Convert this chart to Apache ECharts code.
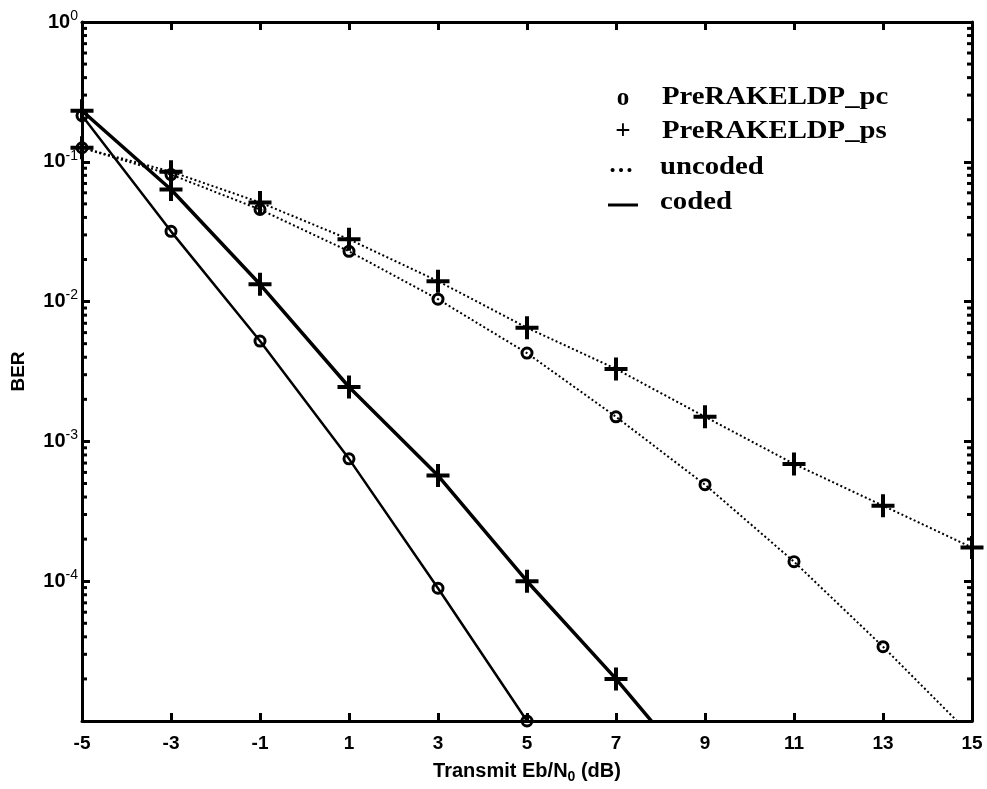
<!DOCTYPE html>
<html>
<head>
<meta charset="utf-8">
<script src="https://cdn.jsdelivr.net/npm/echarts@6/dist/echarts.min.js"></script>
<style>
html,body{margin:0;padding:0;background:#fff;}
#chart{width:987px;height:789px;}
</style>
</head>
<body>
<div id="chart"></div>
<script>
// ---- data ----
const snrCategories = ['-5','-3','-1','1','3','5','7','9','11','13','15'];
const uncodedPc = [0.126, 0.081, 0.0456, 0.0229, 0.0104, 0.00428, 0.0015, 0.00049, 0.000138, 3.4e-5, 7.8e-6];
const uncodedPs = [0.126, 0.085, 0.0512, 0.0279, 0.0140, 0.0065, 0.0033, 0.0015, 0.00069, 0.000347, 0.000174];
const codedPc = [0.214, 0.0318, 0.00522, 0.00075, 8.9e-5, 1.0e-5];
const codedPs = [0.232, 0.0633, 0.0133, 0.00245, 0.00057, 0.0001, 2.0e-5, 3.5e-6];
const decadeExponents = [-5, -4, -3, -2, -1];
const minorMultipliers = [2, 3, 4, 5, 6, 7, 8, 9];
const legendLabels = ['PreRAKELDP_pc', 'PreRAKELDP_ps', 'uncoded', 'coded'];

const minorValues = [];
decadeExponents.forEach(e => minorMultipliers.forEach(m => minorValues.push([0, m * Math.pow(10, e)])));

const chart = echarts.init(document.getElementById('chart'), null, {renderer: 'canvas'});

const plusPath = 'path://M9.5,0H13.5V9.5H23V13.5H13.5V23H9.5V13.5H0V9.5H9.5Z';
const ringPath = 'path://M0,7A7,7 0 1,0 14,7A7,7 0 1,0 0,7Z M3.2,7A3.8,3.8 0 1,1 10.8,7A3.8,3.8 0 1,1 3.2,7Z';
const axisLine = {show: true, onZero: false, lineStyle: {color: '#000', width: 3}};
const majorTick = {show: true, inside: true, length: 8, lineStyle: {color: '#000', width: 3}};
const tickFont = 'Liberation Sans, Arial, sans-serif';
const serifFont = '"Liberation Serif", "Times New Roman", serif';

function legendText(txt, x, y) {
  return {type: 'text', x: x, y: y, scaleX: 1.15, z: 100,
    style: {text: txt, font: 'bold 25px ' + serifFont, fill: '#000', align: 'left', verticalAlign: 'middle'}};
}

const option = {
  backgroundColor: '#fff',
  animation: false,
  grid: {left: 82, right: 15, top: 22, bottom: 66, containLabel: false},
  xAxis: [
    {
      type: 'category', data: snrCategories, boundaryGap: false, position: 'bottom',
      axisLine: axisLine, axisTick: Object.assign({alignWithLabel: true}, majorTick),
      axisLabel: {color: '#000', fontFamily: tickFont, fontWeight: 'bold', fontSize: 19, margin: 13},
      splitLine: {show: false},
      name: '{n|Transmit Eb/N}{s|0}{n| (dB)}',
      nameLocation: 'middle', nameGap: 37,
      nameTextStyle: {
        rich: {
          n: {fontFamily: tickFont, fontWeight: 'bold', fontSize: 20, color: '#000'},
          s: {fontFamily: tickFont, fontWeight: 'bold', fontSize: 14, color: '#000', padding: [12, 0, 0, 0]}
        }
      }
    },
    {
      type: 'category', data: snrCategories, boundaryGap: false, position: 'top',
      axisLine: axisLine, axisTick: majorTick, axisLabel: {show: false}, splitLine: {show: false}
    }
  ],
  yAxis: [
    {
      type: 'log', logBase: 10, min: 1e-5, max: 1, interval: 1, position: 'left',
      axisLine: axisLine, axisTick: majorTick,
      axisLabel: {
        margin: 4,
        formatter: function (v) {
          const e = Math.round(Math.log10(v));
          if (e === -5) return '';
          return '{b|10}{s|' + e + '}';
        },
        rich: {
          b: {fontFamily: tickFont, fontWeight: 'bold', fontSize: 20, color: '#000'},
          s: {fontFamily: tickFont, fontSize: 14, color: '#000', padding: [0, 0, 12, 0]}
        }
      },
      splitLine: {show: false},
      name: 'BER', nameLocation: 'middle', nameGap: 54, nameRotate: 90,
      nameTextStyle: {fontFamily: tickFont, fontWeight: 'bold', fontSize: 19, color: '#000'}
    },
    {
      type: 'log', logBase: 10, min: 1e-5, max: 1, interval: 1, position: 'right',
      axisLine: axisLine, axisTick: majorTick, axisLabel: {show: false}, splitLine: {show: false}
    }
  ],
  series: [
    {
      name: 'minorTicks', type: 'custom', xAxisIndex: 0, yAxisIndex: 0,
      data: minorValues, encode: {x: 0, y: 1}, silent: true, clip: false, z: 5,
      renderItem: function (params, api) {
        const v = api.value(1);
        const pL = api.coord([0, v]);
        const pR = api.coord([snrCategories.length - 1, v]);
        return {
          type: 'group',
          children: [
            {type: 'line', shape: {x1: pL[0], y1: pL[1], x2: pL[0] + 5, y2: pL[1]}, style: {stroke: '#000', lineWidth: 3}},
            {type: 'line', shape: {x1: pR[0] - 5, y1: pR[1], x2: pR[0], y2: pR[1]}, style: {stroke: '#000', lineWidth: 3}}
          ]
        };
      }
    },
    {
      name: 'uncoded pc', type: 'line', data: uncodedPc, clip: true,
      symbol: ringPath, symbolSize: 13,
      itemStyle: {color: '#000'},
      lineStyle: {color: '#000', width: 2, type: [2, 2.5]}
    },
    {
      name: 'uncoded ps', type: 'line', data: uncodedPs, clip: true,
      symbol: plusPath, symbolSize: 23,
      itemStyle: {color: '#000'},
      lineStyle: {color: '#000', width: 2, type: [2, 2.5]}
    },
    {
      name: 'coded pc', type: 'line', data: codedPc, clip: true,
      symbol: ringPath, symbolSize: 13,
      itemStyle: {color: '#000'},
      lineStyle: {color: '#000', width: 2.5}
    },
    {
      name: 'coded ps', type: 'line', data: codedPs, clip: true,
      symbol: plusPath, symbolSize: 23,
      itemStyle: {color: '#000'},
      lineStyle: {color: '#000', width: 3.5}
    }
  ],
  graphic: [
    {type: 'text', x: 623, y: 99, z: 100, style: {text: 'o', font: 'bold 25px ' + serifFont, fill: '#000', align: 'center', verticalAlign: 'middle'}},
    legendText(legendLabels[0], 662, 98),
    {type: 'text', x: 623, y: 132, z: 100, style: {text: '+', font: 'bold 27px ' + serifFont, fill: '#000', align: 'center', verticalAlign: 'middle'}},
    legendText(legendLabels[1], 662, 132),
    {type: 'text', x: 621, y: 166, z: 100, style: {text: '…', font: 'bold 25px ' + serifFont, fill: '#000', align: 'center', verticalAlign: 'middle'}},
    legendText(legendLabels[2], 660, 168),
    {type: 'line', z: 100, shape: {x1: 608, y1: 205, x2: 638, y2: 205}, style: {stroke: '#000', lineWidth: 3}},
    legendText(legendLabels[3], 660, 203)
  ]
};

chart.setOption(option);
</script>
</body>
</html>
